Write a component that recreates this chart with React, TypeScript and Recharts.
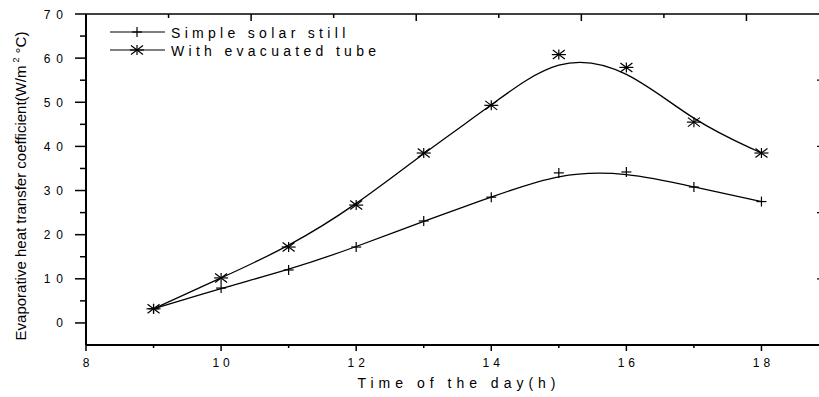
import React from 'react';
import { LineChart, Line, XAxis, YAxis, Legend } from 'recharts';

const hours = [9, 10, 11, 12, 13, 14, 15, 16, 17, 18];
const simpleStill = [3.2, 7.9, 12.0, 17.2, 23.1, 28.5, 34.0, 34.2, 30.8, 27.5];
const evacuatedTube = [3.2, 10.2, 17.2, 26.7, 38.5, 49.3, 60.8, 57.9, 45.5, 38.5];
const seriesNames = ['Simple solar still', 'With evacuated tube'];

const xTicks = [8, 9, 10, 11, 12, 13, 14, 15, 16, 17, 18, 19];
const yTicks = [-5, 0, 5, 10, 15, 20, 25, 30, 35, 40, 45, 50, 55, 60, 65, 70];
const topTicks = [1, 2, 3, 4, 5, 6, 7, 8, 9];
const rightTicks = [1, 2, 3, 4];
const xTitle = 'Time of the day(h)';
const yTitleMain = 'Evaporative heat transfer coefficient(W/m';
const yTitleSup = '2';
const yTitleEnd = ' °C)';

const data = hours.map((h, i) => ({ hour: h, simple: simpleStill[i], evac: evacuatedTube[i] }));

const FONT = '"Liberation Sans", Arial, sans-serif';

const BottomTick = (props: any) => {
  const { x, y, payload } = props;
  const v = payload.value;
  const major = v % 2 === 0;
  const ls = 4;
  return (
    <g>
      <line x1={x} x2={x} y1={y} y2={y + (major ? 6 : 3)} stroke="#000" strokeWidth={1.5} />
      {major && (
        <text x={x + ls / 2} y={y + 22} textAnchor="middle" fontSize={12} fontFamily={FONT} letterSpacing={ls} fill="#000">
          {v}
        </text>
      )}
    </g>
  );
};

const LeftTick = (props: any) => {
  const { x, y, payload } = props;
  const v = payload.value;
  if (v < 0) return <g />;
  const major = v % 10 === 0;
  const ls = 6;
  return (
    <g>
      <line x1={x} x2={x - (major ? 11 : 6)} y1={y} y2={y} stroke="#000" strokeWidth={1.5} />
      {major && (
        <text x={x - 23 + ls} y={y + 4.5} textAnchor="end" fontSize={12} fontFamily={FONT} letterSpacing={ls} fill="#000">
          {v}
        </text>
      )}
    </g>
  );
};

const TopTick = (props: any) => {
  const { x, y, payload } = props;
  const major = payload.value % 2 === 0;
  return <line x1={x} x2={x} y1={y} y2={y + (major ? 7 : 4)} stroke="#000" strokeWidth={1.5} />;
};

const RightTick = (props: any) => {
  const { x, y } = props;
  return <line x1={x} x2={x - 12} y1={y} y2={y} stroke="#000" strokeWidth={1.2} />;
};

const XTitle = () => (
  <text x={459} y={388} textAnchor="middle" fontSize={14} fontFamily={FONT} letterSpacing={5} fill="#000">
    {xTitle}
  </text>
);

const YTitle = () => (
  <text
    x={0}
    y={0}
    transform="translate(26,186) rotate(-90)"
    textAnchor="middle"
    fontSize={15}
    fontFamily={FONT}
    fill="#000"
  >
    {yTitleMain}
    <tspan dx={3} dy={-7} fontSize={9}>{yTitleSup}</tspan>
    <tspan dy={7}>{yTitleEnd}</tspan>
  </text>
);

const PlusDot = (props: any) => {
  const { cx, cy, index } = props;
  if (cx == null || cy == null) return <g key={`p-${index}`} />;
  return (
    <g key={`p-${index}`}>
      <line x1={cx - 5} x2={cx + 5} y1={cy} y2={cy} stroke="#000" strokeWidth={1.2} />
      <line x1={cx} x2={cx} y1={cy - 5} y2={cy + 5} stroke="#000" strokeWidth={1.2} />
    </g>
  );
};

const StarDot = (props: any) => {
  const { cx, cy, index } = props;
  if (cx == null || cy == null) return <g key={`s-${index}`} />;
  return (
    <g key={`s-${index}`}>
      <line x1={cx - 7} x2={cx + 7} y1={cy} y2={cy} stroke="#000" strokeWidth={1.2} />
      <line x1={cx} x2={cx} y1={cy - 5} y2={cy + 5} stroke="#000" strokeWidth={1.2} />
      <line x1={cx - 6} x2={cx + 6} y1={cy - 4.5} y2={cy + 4.5} stroke="#000" strokeWidth={1.2} />
      <line x1={cx - 6} x2={cx + 6} y1={cy + 4.5} y2={cy - 4.5} stroke="#000" strokeWidth={1.2} />
    </g>
  );
};

const LegendContent = () => (
  <svg width={320} height={40} style={{ display: 'block', overflow: 'visible' }}>
    {seriesNames.map((name, i) => {
      const ly = 9 + 18 * i;
      return (
        <g key={name}>
          <line x1={0} x2={55} y1={ly} y2={ly} stroke="#000" strokeWidth={1.2} />
          {i === 0 ? <PlusDot cx={27} cy={ly} index={100} /> : <StarDot cx={27} cy={ly} index={101} />}
          <text x={61} y={ly + 6} fontSize={14} fontFamily={FONT} letterSpacing={4.3} fill="#000">
            {name}
          </text>
        </g>
      );
    })}
  </svg>
);

export default function App() {
  return (
    <div style={{ position: 'absolute', left: 0, top: 0, width: 819, height: 397, overflow: 'hidden', background: '#fff' }}>
      <LineChart width={830} height={397} data={data} margin={{ top: 0, right: 0, bottom: 0, left: 0 }}>
        <XAxis
          xAxisId="bottom"
          dataKey="hour"
          type="number"
          domain={[8, 19]}
          ticks={xTicks}
          interval={0}
          height={52}
          tickSize={0}
          tickMargin={0}
          tickLine={false}
          tick={<BottomTick />}
          axisLine={{ stroke: '#000', strokeWidth: 2 }}
          label={<XTitle />}
          allowDataOverflow
        />
        <XAxis
          xAxisId="top"
          orientation="top"
          type="number"
          domain={[0, 10]}
          ticks={topTicks}
          interval={0}
          height={14}
          tickSize={0}
          tickMargin={0}
          tickLine={false}
          tick={<TopTick />}
          axisLine={{ stroke: '#000', strokeWidth: 1.5 }}
          allowDataOverflow
        />
        <YAxis
          yAxisId="left"
          type="number"
          domain={[-5, 70]}
          ticks={yTicks}
          interval={0}
          width={86}
          tickSize={0}
          tickMargin={0}
          tickLine={false}
          tick={<LeftTick />}
          axisLine={{ stroke: '#000', strokeWidth: 2 }}
          label={<YTitle />}
          allowDataOverflow
        />
        <YAxis
          yAxisId="right"
          orientation="right"
          type="number"
          domain={[0, 5]}
          ticks={rightTicks}
          interval={0}
          width={1}
          tickSize={0}
          tickMargin={0}
          tickLine={false}
          tick={<RightTick />}
          axisLine={{ stroke: '#000', strokeWidth: 1.5 }}
          allowDataOverflow
        />
        <Legend
          layout="vertical"
          align="center"
          verticalAlign="middle"
          content={<LegendContent />}
          wrapperStyle={{ position: 'absolute', left: 110, top: 23, width: 320, height: 40 }}
        />
        <Line
          xAxisId="bottom"
          yAxisId="left"
          type="basis"
          dataKey="simple"
          name={seriesNames[0]}
          stroke="#000"
          strokeWidth={1.3}
          dot={PlusDot}
          activeDot={false}
          isAnimationActive={false}
        />
        <Line
          xAxisId="bottom"
          yAxisId="left"
          type="basis"
          dataKey="evac"
          name={seriesNames[1]}
          stroke="#000"
          strokeWidth={1.3}
          dot={StarDot}
          activeDot={false}
          isAnimationActive={false}
        />
      </LineChart>
    </div>
  );
}
